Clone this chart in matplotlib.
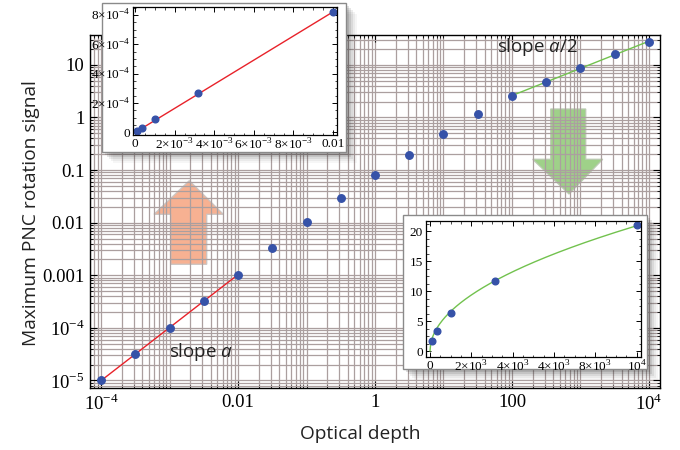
import numpy as np
import matplotlib
matplotlib.use("Agg")
import matplotlib.pyplot as plt
from matplotlib.patches import Polygon, Rectangle
from matplotlib.ticker import FixedLocator, FixedFormatter, AutoMinorLocator, LogLocator, NullFormatter

plt.rcParams['mathtext.fontset'] = 'custom'
plt.rcParams['mathtext.rm'] = 'Liberation Serif'
plt.rcParams['mathtext.it'] = 'Open Sans:italic'
plt.rcParams['font.family'] = ['Open Sans', 'DejaVu Sans']

# main panel data (log-log)
optical_depth = [1e-4, 3.16e-4, 1e-3, 3.16e-3, 1e-2, 3.16e-2, 0.1, 0.316, 1, 3.16,
                 10, 31.6, 100, 316, 1000, 3160, 10000]
pnc_signal = [1.0e-5, 3.15e-5, 1.0e-4, 3.24e-4, 1.03e-3, 3.26e-3, 0.0103, 0.0299, 0.0807,
              0.196, 0.485, 1.18, 2.56, 4.80, 8.6, 15.9, 27.6]

main_xticks = [1e-4, 1e-2, 1, 100, 1e4]
main_xlabels = [r'$10^{-4}$', '0.01', '1', '100', r'$10^{4}$']
main_yticks = [1e-5, 1e-4, 1e-3, 1e-2, 0.1, 1, 10]
main_ylabels = [r'$10^{-5}$', r'$10^{-4}$', '0.001', '0.01', '0.1', '1', '10']

# top-left inset (small optical depth, linear axes)
small_od = [1e-4, 3.16e-4, 1e-3, 3.16e-3, 1e-2]
small_signal = [0.1e-4, 0.3e-4, 0.9e-4, 2.66e-4, 8.18e-4]
small_xticks = [0, 2e-3, 4e-3, 6e-3, 8e-3, 1e-2]
small_xlabels = ['0', r'$2{\times}10^{-3}$', r'$4{\times}10^{-3}$', r'$6{\times}10^{-3}$',
                 r'$8{\times}10^{-3}$', '0.01']
small_yticks = [0, 2e-4, 4e-4, 6e-4, 8e-4]
small_ylabels = ['0', r'$2{\times}10^{-4}$', r'$4{\times}10^{-4}$', r'$6{\times}10^{-4}$',
                 r'$8{\times}10^{-4}$']

# bottom-right inset (large optical depth, linear axes)
large_od = [100, 316, 1000, 3160, 10000]
large_signal = [1.7, 3.4, 6.4, 11.7, 21.1]
large_xticks = [0, 2000, 4000, 6000, 8000, 10000]
large_xlabels = ['0', r'$2{\times}10^{3}$', r'$4{\times}10^{3}$', r'$4{\times}10^{3}$',
                 r'$8{\times}10^{3}$', r'$10^{4}$']
large_yticks = [0, 5, 10, 15, 20]
large_ylabels = ['0', '5', '10', '15', '20']

blue = '#3652a8'
red = '#e8222a'
green = '#72c24e'
grid_col = '#ab9f9f'
serif = 'Liberation Serif'

W, H = 680, 450
fig = plt.figure(figsize=(6.8, 4.5), dpi=100)


def fbox(x0, y0, x1, y1):
    # pixel box (top-left origin) -> figure fraction [l, b, w, h]
    return [x0 / W, (H - y1) / H, (x1 - x0) / W, (y1 - y0) / H]


ax = fig.add_axes(fbox(90, 35, 660, 388))
ax.set_xscale('log')
ax.set_yscale('log')

ax.xaxis.set_major_locator(FixedLocator(main_xticks))
ax.xaxis.set_major_formatter(FixedFormatter(main_xlabels))
ax.yaxis.set_major_locator(FixedLocator(main_yticks))
ax.yaxis.set_major_formatter(FixedFormatter(main_ylabels))
# minor ticks on every 1..9 x 10^k so the grid covers each sub-decade
ax.xaxis.set_minor_locator(LogLocator(base=10, subs=np.arange(1, 10), numticks=40))
ax.yaxis.set_minor_locator(LogLocator(base=10, subs=np.arange(1, 10), numticks=40))
ax.xaxis.set_minor_formatter(NullFormatter())
ax.yaxis.set_minor_formatter(NullFormatter())
ax.set_xlim(10 ** -4.161, 10 ** 4.161)
ax.set_ylim(10 ** -5.143, 10 ** 1.568)

ax.grid(True, which='both', color=grid_col, linewidth=0.9)
ax.tick_params(which='both', direction='in', top=True, right=True, colors='black')
ax.tick_params(which='major', length=5, width=0.8, labelsize=13.5, pad=4)
ax.tick_params(which='minor', length=2.5, width=0.6)
for lab in ax.get_xticklabels() + ax.get_yticklabels():
    lab.set_fontfamily(serif)
for s in ax.spines.values():
    s.set_linewidth(1.0)
    s.set_color('black')

# fits through the end segments
lx = np.log10(optical_depth)
ly = np.log10(pnc_signal)
p_low = np.polyfit(lx[:5], ly[:5], 1)
p_high = np.polyfit(lx[-5:], ly[-5:], 1)
xs = np.linspace(lx[0], lx[4], 20)
ax.plot(10 ** xs, 10 ** np.polyval(p_low, xs), color=red, lw=1.0, zorder=3)
xs = np.linspace(lx[-5], lx[-1], 20)
ax.plot(10 ** xs, 10 ** np.polyval(p_high, xs), color=green, lw=1.0, zorder=3)
ax.plot(optical_depth, pnc_signal, 'o', color=blue, ms=5.4, mec=blue, zorder=4)


def afrac(px, py):
    return ((px - 90) / 570, (388 - py) / 353)


up_arrow = [afrac(170.7, 264.3), afrac(170.7, 214.3), afrac(154, 214.3), afrac(189.3, 180.7),
            afrac(223.3, 214.3), afrac(206.7, 214.3), afrac(206.7, 264.3)]
down_arrow = [afrac(550.7, 109), afrac(550.7, 159.3), afrac(532.7, 159.3), afrac(569, 194),
              afrac(602.7, 159.3), afrac(585.7, 159.3), afrac(585.7, 109)]
ax.add_patch(Polygon(up_arrow, closed=True, transform=ax.transAxes, facecolor='#f7a986',
                     edgecolor='#c9c4c2', lw=1.0, alpha=0.9, zorder=1))
ax.add_patch(Polygon(down_arrow, closed=True, transform=ax.transAxes, facecolor='#95cc7c',
                     edgecolor='#b9c9b0', lw=1.0, alpha=0.9, zorder=1))

tx, ty = afrac(201, 352)
ax.text(tx, ty, r'slope $a$', transform=ax.transAxes, ha='center', va='center',
        fontsize=13.5, color='#222222', zorder=5)
tx, ty = afrac(537, 47)
ax.text(tx, ty, r'slope $a$/2', transform=ax.transAxes, ha='center', va='center',
        fontsize=13.5, color='#222222', zorder=5)

fig.text(360 / W, 1 - 434 / H, 'Optical depth', ha='center', va='center', fontsize=13.8,
         color='#222222')
fig.text(31 / W, 1 - 213 / H, 'Maximum PNC rotation signal', ha='center', va='center',
         rotation=90, fontsize=13.8, color='#222222')


def inset_frame(x0, y0, x1, y1):
    # soft drop shadow then white card
    for k, a in zip([11, 9, 7, 5, 3], [0.04, 0.06, 0.09, 0.12, 0.15]):
        fig.patches.append(Rectangle(fbox(x0 + k, y0 + k, x1 + k, y1 + k)[:2],
                                     (x1 - x0) / W, (y1 - y0) / H, transform=fig.transFigure,
                                     facecolor='#303030', edgecolor='none', alpha=a, zorder=1))
    fig.patches.append(Rectangle(fbox(x0, y0, x1, y1)[:2], (x1 - x0) / W, (y1 - y0) / H,
                                 transform=fig.transFigure, facecolor='white',
                                 edgecolor='#8a8a8a', lw=1.0, zorder=1.5))


def style_inset(a, xt, xl, yt, yl):
    a.xaxis.set_major_locator(FixedLocator(xt))
    a.xaxis.set_major_formatter(FixedFormatter(xl))
    a.yaxis.set_major_locator(FixedLocator(yt))
    a.yaxis.set_major_formatter(FixedFormatter(yl))
    a.xaxis.set_minor_locator(AutoMinorLocator(4))
    a.yaxis.set_minor_locator(AutoMinorLocator(4))
    a.tick_params(which='both', direction='in', top=True, right=True)
    a.tick_params(which='major', length=3.5, width=0.7, labelsize=9.5, pad=2)
    a.tick_params(which='minor', length=1.8, width=0.5)
    for lab in a.get_xticklabels() + a.get_yticklabels():
        lab.set_fontfamily(serif)
    for s in a.spines.values():
        s.set_linewidth(0.9)


inset_frame(102, 3, 346, 152)
ax1 = fig.add_axes(fbox(133.3, 7.3, 337, 135))
ax1.set_zorder(3)
ax1.set_xlim(-0.0001, 0.0102)
ax1.set_ylim(-0.18e-4, 8.52e-4)
k = np.sum(np.array(small_od) * np.array(small_signal)) / np.sum(np.array(small_od) ** 2)
xs = np.linspace(0, small_od[-1], 50)
ax1.plot(xs, k * xs, color=red, lw=1.0)
ax1.plot(small_od, small_signal, 'o', color=blue, ms=4.8)
style_inset(ax1, small_xticks, small_xlabels, small_yticks, small_ylabels)

inset_frame(403, 215, 647, 369)
ax2 = fig.add_axes(fbox(425.5, 221, 640.7, 357))
ax2.set_zorder(3)
ax2.set_xlim(-218, 10194)
ax2.set_ylim(-1.0, 21.7)
c = np.sum(np.sqrt(large_od) * np.array(large_signal)) / np.sum(large_od)
xs = np.linspace(0, large_od[-1], 300)
ax2.plot(xs, c * np.sqrt(xs), color=green, lw=1.0)
ax2.plot(large_od, large_signal, 'o', color=blue, ms=4.8)
style_inset(ax2, large_xticks, large_xlabels, large_yticks, large_ylabels)

fig.savefig('out.png', dpi=100)
